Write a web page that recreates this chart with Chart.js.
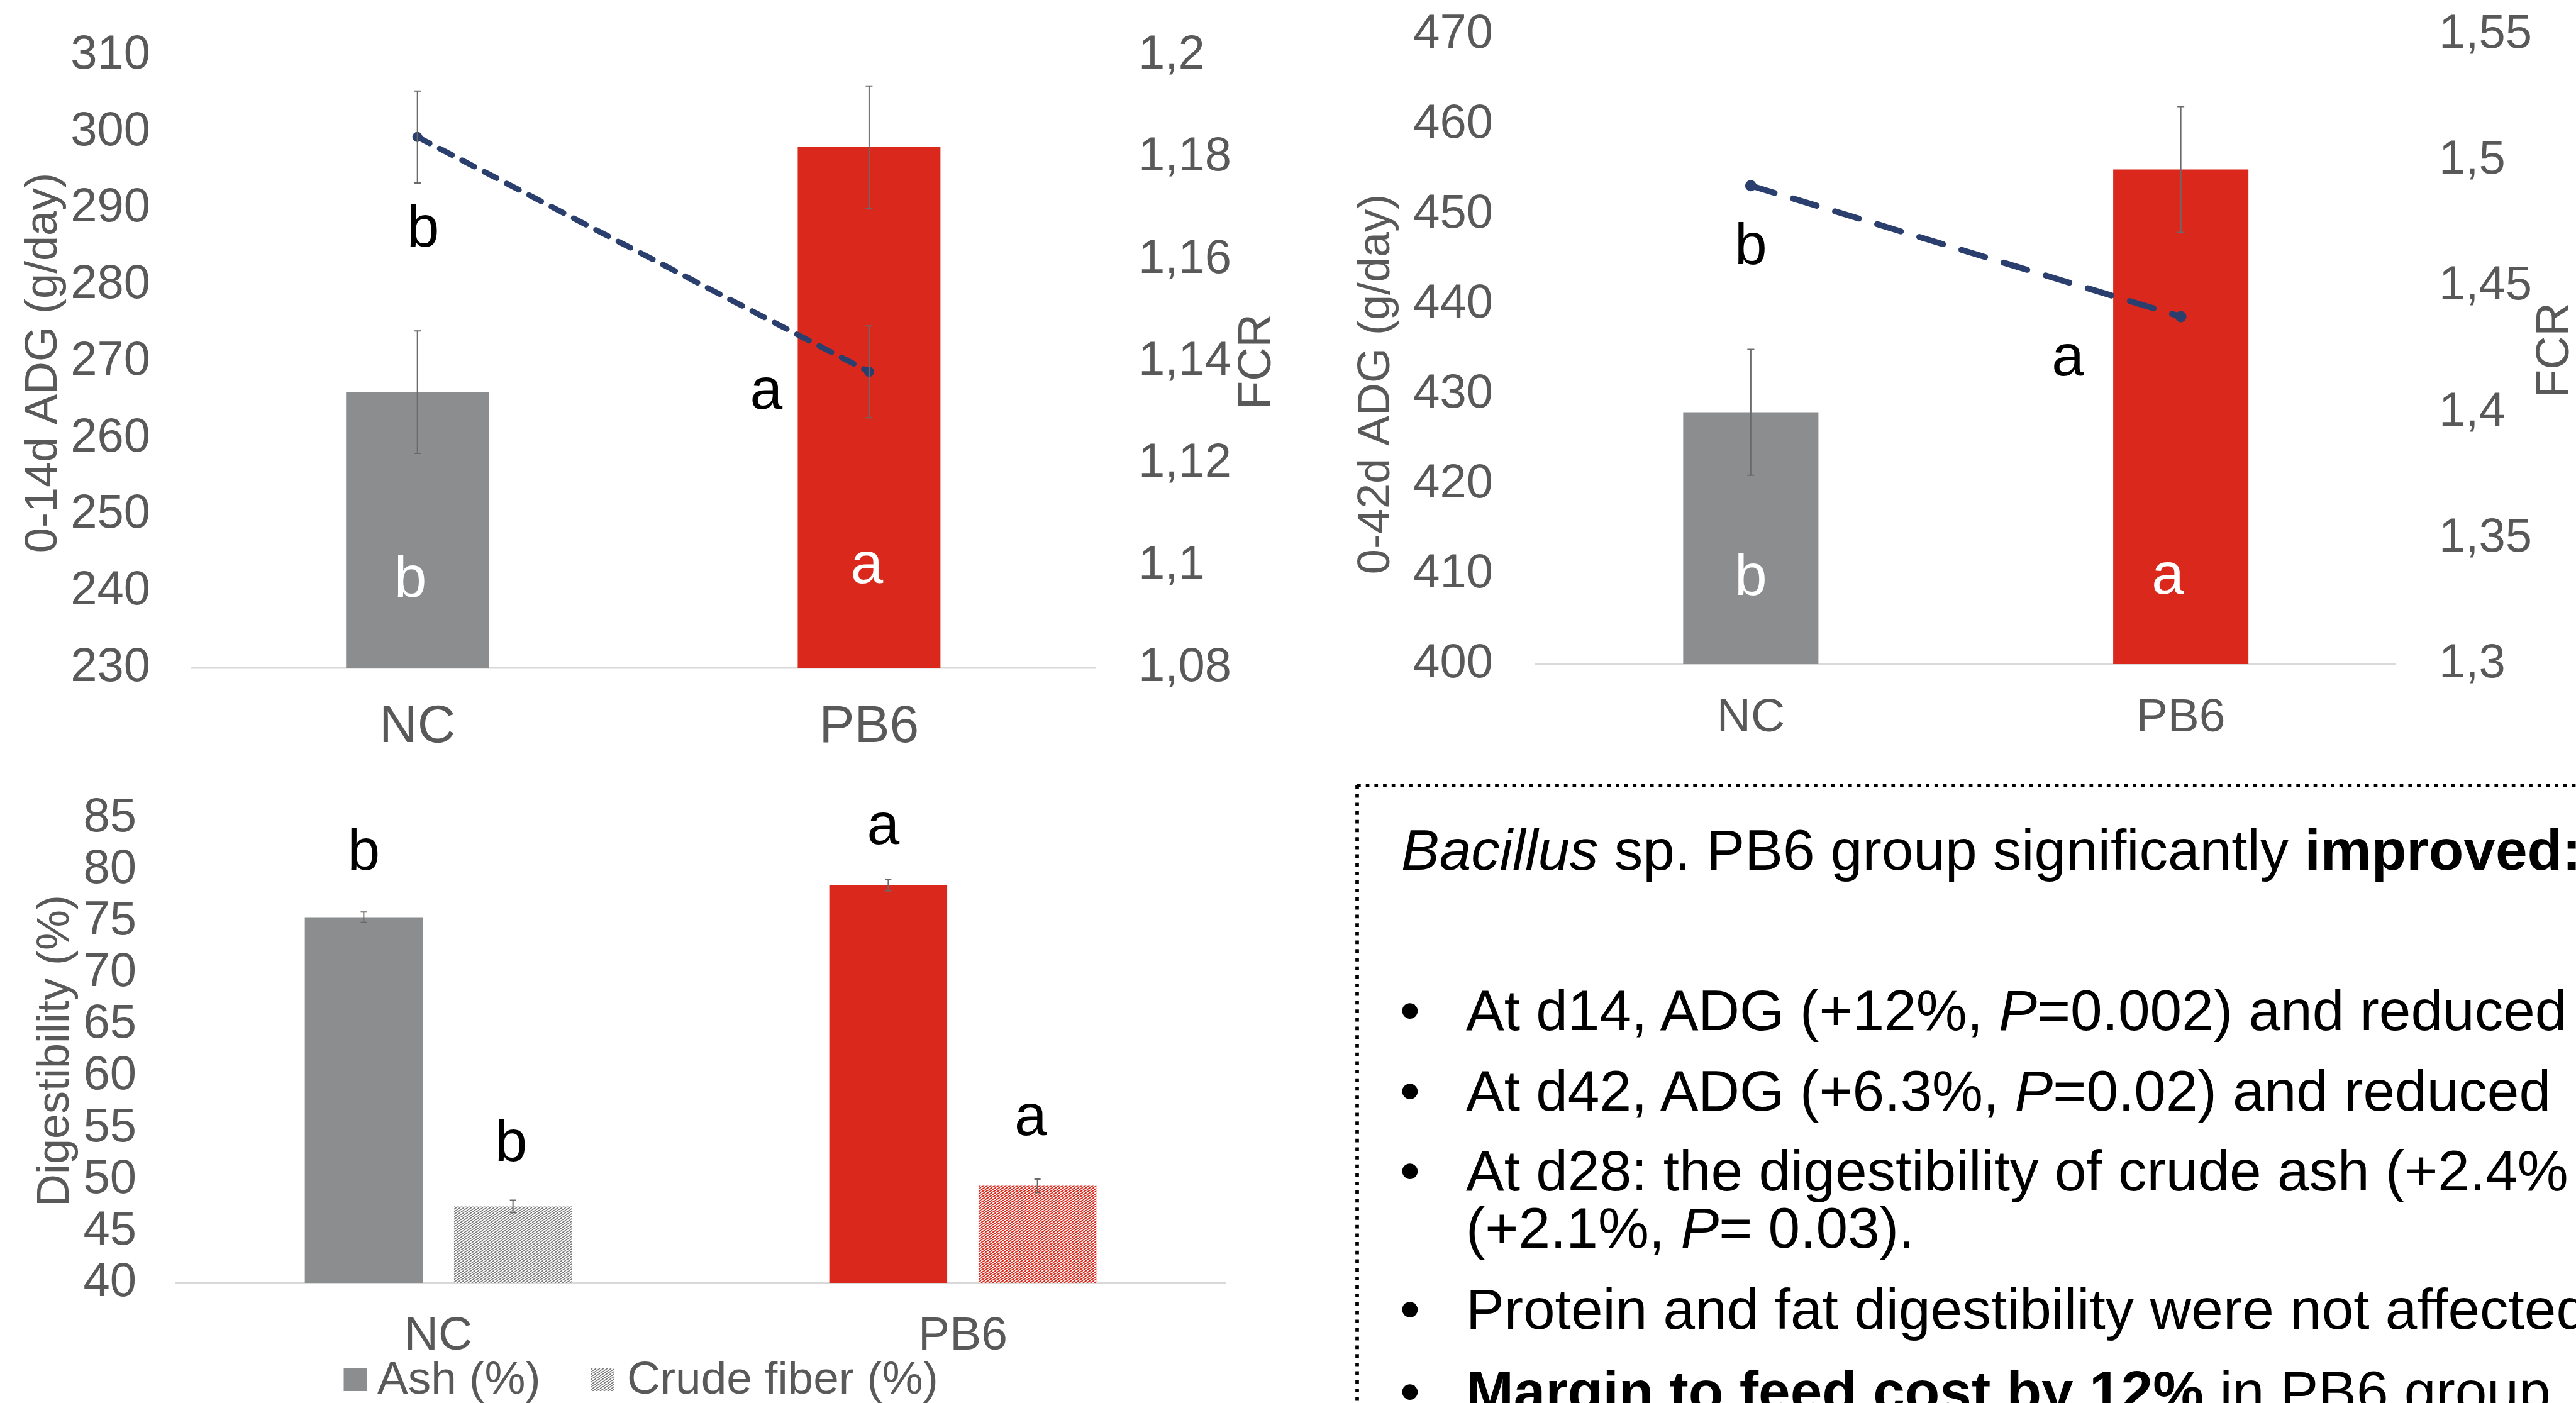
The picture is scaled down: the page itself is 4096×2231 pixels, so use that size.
<!DOCTYPE html>
<html><head><meta charset="utf-8">
<script src="https://cdn.jsdelivr.net/npm/chart.js@4.4.1/dist/chart.umd.min.js"></script>
<style>
html,body{margin:0;padding:0;background:#fff;overflow:hidden;}
#page{position:relative;width:4096px;height:2231px;overflow:hidden;background:#fff;font-family:'Liberation Sans',Arial,sans-serif;}
canvas{position:absolute;}
.t{position:absolute;white-space:nowrap;font-size:91px;line-height:91px;color:#000;}
</style></head><body><div id="page">
<canvas id="c1" width="2048" height="1200" style="left:0;top:0"></canvas>
<canvas id="c2" width="2048" height="1200" style="left:2048px;top:0"></canvas>
<canvas id="c3" width="2100" height="1031" style="left:0;top:1200px"></canvas>
<svg width="4096" height="2231" style="position:absolute;left:0;top:0">
  <path d="M2158 1249 H4200" stroke="#000" stroke-width="5.7" stroke-dasharray="5.7 8" fill="none"/>
  <path d="M2158 1249 V2400" stroke="#000" stroke-width="5.7" stroke-dasharray="5.7 8" fill="none"/>
</svg>
<div class="t" style="left:2228px;top:1306px"><i>Bacillus</i> sp. PB6 group significantly <b>improved:</b></div>
<div class="t" style="left:2226px;top:1561px">•</div>
<div class="t" style="left:2331px;top:1561px">At d14, ADG (+12%, <i>P</i>=0.002) and reduced</div>
<div class="t" style="left:2226px;top:1689px">•</div>
<div class="t" style="left:2331px;top:1689px">At d42, ADG (+6.3%, <i>P</i>=0.02) and reduced</div>
<div class="t" style="left:2226px;top:1816px">•</div>
<div class="t" style="left:2331px;top:1816px">At d28: the digestibility of crude ash (+2.4%</div>
<div class="t" style="left:2331px;top:1907px">(+2.1%, <i>P</i>= 0.03).</div>
<div class="t" style="left:2226px;top:2036px">•</div>
<div class="t" style="left:2331px;top:2036px">Protein and fat digestibility were not affected</div>
<div class="t" style="left:2226px;top:2167px">•</div>
<div class="t" style="left:2331px;top:2167px"><b>Margin to feed cost by 12%</b> in PB6 group</div>
</div>
<script>
// ---------- data ----------
const categories = ['NC', 'PB6'];
const adg14 = [266, 298];
const adg14Err = [8, 8];
const fcr14 = [1.184, 1.138];
const fcr14Err = [0.009, 0.009];
const adg42 = [428, 455];
const adg42Err = [7, 7];
const fcr42 = [1.49, 1.438];
const ash = [75.4, 78.5];
const ashErr = [0.5, 0.55];
const fiber = [47.4, 49.4];
const fiberErr = [0.6, 0.65];
const adg14Ticks = [230, 240, 250, 260, 270, 280, 290, 300, 310];
const fcr14Ticks = [1.08, 1.10, 1.12, 1.14, 1.16, 1.18, 1.20];
const fcr14TickLabels = ['1,08', '1,1', '1,12', '1,14', '1,16', '1,18', '1,2'];
const adg42Ticks = [400, 410, 420, 430, 440, 450, 460, 470];
const fcr42Ticks = [1.30, 1.35, 1.40, 1.45, 1.50, 1.55];
const fcr42TickLabels = ['1,3', '1,35', '1,4', '1,45', '1,5', '1,55'];
const digTicks = [40, 45, 50, 55, 60, 65, 70, 75, 80, 85];
const legendLabels = ['Ash (%)', 'Crude fiber (%)'];

// ---------- styles ----------
const FAM = "'Liberation Sans', Arial, sans-serif";
const GREY = '#8C8D8F', RED = '#DA291C', NAVY = '#2B3F6E', TICK = '#595959', AXIS = '#D9D9D9', ERR = '#6A6A6A';
const CLEAR = 'rgba(0,0,0,0)';

function errPlugin(sets, cap) {
  return { id: 'errbars', afterDatasetsDraw(chart) {
    const ctx = chart.ctx;
    sets.forEach(s => {
      const meta = chart.getDatasetMeta(s.ds);
      const scale = chart.scales[meta.yAxisID];
      const data = chart.data.datasets[s.ds].data;
      ctx.save(); ctx.strokeStyle = ERR; ctx.lineWidth = 2;
      meta.data.forEach((el, i) => {
        const x = el.x, y1 = scale.getPixelForValue(data[i] + s.err[i]), y2 = scale.getPixelForValue(data[i] - s.err[i]);
        ctx.beginPath();
        ctx.moveTo(x, y1); ctx.lineTo(x, y2);
        ctx.moveTo(x - cap, y1); ctx.lineTo(x + cap, y1);
        ctx.moveTo(x - cap, y2); ctx.lineTo(x + cap, y2);
        ctx.stroke();
      });
      ctx.restore();
    });
  }};
}
function letterPlugin(list) {
  return { id: 'letters', afterDraw(chart) {
    const ctx = chart.ctx;
    ctx.save(); ctx.font = '93px ' + FAM; ctx.textAlign = 'center'; ctx.textBaseline = 'alphabetic';
    list.forEach(L => {
      const el = chart.getDatasetMeta(L.ds).data[L.i];
      const y0 = L.anchor === 'base' ? chart.chartArea.bottom : el.y;
      ctx.fillStyle = L.c;
      ctx.fillText(L.t, el.x + L.dx, y0 + L.dy);
    });
    ctx.restore();
  }};
}
function titlePlugin(list) {
  return { id: 'titles', afterDraw(chart) {
    const ctx = chart.ctx;
    list.forEach(T => {
      ctx.save(); ctx.translate(T.x, T.y); ctx.rotate(-Math.PI / 2);
      ctx.font = T.size + 'px ' + FAM; ctx.fillStyle = TICK; ctx.textAlign = 'center'; ctx.textBaseline = 'middle';
      ctx.fillText(T.t, 0, 0); ctx.restore();
    });
  }};
}
function yAxis(pos, min, max, vals, labels, pad, width, size) {
  return {
    position: pos, min: min, max: max,
    afterBuildTicks(s) { s.ticks = vals.map(v => ({ value: v })); },
    ticks: { color: TICK, font: { family: FAM, size: size, lineHeight: 1 }, padding: 0, autoSkip: false,
             callback: (v, i) => labels[i] },
    grid: { display: true, drawOnChartArea: false, drawTicks: true, tickLength: pad, tickColor: CLEAR, color: CLEAR },
    border: { display: false },
    afterFit(s) { s.width = width; }
  };
}
function xAxis(size, pad, height) {
  return {
    grid: { display: false, drawTicks: false },
    border: { display: true, color: AXIS, width: 2.5 },
    ticks: { color: TICK, font: { family: FAM, size: size, lineHeight: 1 }, padding: pad },
    afterFit(s) { s.height = height; }
  };
}
const base = { responsive: false, devicePixelRatio: 1, animation: false,
  plugins: { legend: { display: false }, tooltip: { enabled: false } } };

// ---------- chart 1 ----------
new Chart(document.getElementById('c1'), {
  type: 'bar',
  data: { labels: categories, datasets: [
    { type: 'line', data: fcr14, yAxisID: 'y1', borderColor: NAVY, backgroundColor: NAVY, borderWidth: 9,
      borderDash: [22, 18], borderCapStyle: 'round', pointRadius: 8, pointBorderWidth: 0,
      pointBackgroundColor: NAVY, fill: false, tension: 0, order: 0 },
    { type: 'bar', data: adg14, yAxisID: 'y', backgroundColor: [GREY, RED], barPercentage: 0.316,
      categoryPercentage: 1, order: 1 }
  ]},
  options: Object.assign({}, base, {
    layout: { padding: { top: 88, left: 0, right: 0, bottom: 0 } },
    scales: {
      x: xAxis(84, 53, 138),
      y: yAxis('left', 230, 310, adg14Ticks, adg14Ticks.map(String), 65.6, 304.6, 76),
      y1: yAxis('right', 1.08, 1.2, fcr14Ticks, fcr14TickLabels, 69, 307, 76)
    }
  }),
  plugins: [
    errPlugin([{ ds: 1, err: adg14Err }, { ds: 0, err: fcr14Err }], 5.5),
    letterPlugin([
      { t: 'b', c: '#000', ds: 0, i: 0, dx: 9, dy: 174 },
      { t: 'a', c: '#000', ds: 0, i: 1, dx: -163.5, dy: 59 },
      { t: 'b', c: '#fff', ds: 1, i: 0, anchor: 'base', dx: -11, dy: -113.5 },
      { t: 'a', c: '#fff', ds: 1, i: 1, anchor: 'base', dx: -3.5, dy: -135 }
    ]),
    titlePlugin([
      { t: '0-14d ADG (g/day)', x: 70, y: 577, size: 72 },
      { t: 'FCR', x: 2000, y: 575, size: 74 }
    ])
  ]
});

// ---------- chart 2 ----------
new Chart(document.getElementById('c2'), {
  type: 'bar',
  data: { labels: categories, datasets: [
    { type: 'line', data: fcr42, yAxisID: 'y1', borderColor: NAVY, backgroundColor: NAVY, borderWidth: 9.5,
      borderDash: [39.5, 30.5], borderCapStyle: 'round', pointRadius: 9, pointBorderWidth: 0,
      pointBackgroundColor: NAVY, fill: false, tension: 0, order: 0 },
    { type: 'bar', data: adg42, yAxisID: 'y', backgroundColor: [GREY, RED], barPercentage: 0.3145,
      categoryPercentage: 1, order: 1 }
  ]},
  options: Object.assign({}, base, {
    layout: { padding: { top: 55, left: 0, right: 0, bottom: 0 } },
    scales: {
      x: xAxis(75, 48.5, 144),
      y: yAxis('left', 400, 470, adg42Ticks, adg42Ticks.map(String), 68, 394, 76),
      y1: yAxis('right', 1.3, 1.55, fcr42Ticks, fcr42TickLabels, 68.5, 286.5, 76)
    }
  }),
  plugins: [
    errPlugin([{ ds: 1, err: adg42Err }], 5.5),
    letterPlugin([
      { t: 'b', c: '#000', ds: 0, i: 0, dx: 0, dy: 125 },
      { t: 'a', c: '#000', ds: 0, i: 1, dx: -179.6, dy: 94 },
      { t: 'b', c: '#fff', ds: 1, i: 0, anchor: 'base', dx: 0, dy: -110 },
      { t: 'a', c: '#fff', ds: 1, i: 1, anchor: 'base', dx: -20.6, dy: -112 }
    ]),
    titlePlugin([
      { t: '0-42d ADG (g/day)', x: 141, y: 611, size: 72 },
      { t: 'FCR', x: 2016, y: 557, size: 74 }
    ])
  ]
});

// ---------- chart 3 ----------
const c3 = document.getElementById('c3');
const c3ctx = c3.getContext('2d');
function hatch(color, lw) {
  const t = document.createElement('canvas'); t.width = 6; t.height = 4;
  const g = t.getContext('2d');
  g.fillStyle = '#fff'; g.fillRect(0, 0, 6, 4);
  g.strokeStyle = color; g.lineWidth = lw;
  [-6, 0, 6].forEach(o => { g.beginPath(); g.moveTo(o, 4); g.lineTo(o + 6, 0); g.stroke(); });
  return c3ctx.createPattern(t, 'repeat');
}
const greyHatch = hatch('#7a7a7a', 1.7), redHatch = hatch(RED, 1.9);
const legendPlugin = { id: 'customLegend', afterDraw(chart) {
  const ctx = chart.ctx;
  ctx.save();
  ctx.fillStyle = GREY; ctx.fillRect(546.5, 975, 36.5, 37);
  ctx.fillStyle = greyHatch; ctx.fillRect(940, 975, 37, 37);
  ctx.font = '73px ' + FAM; ctx.fillStyle = TICK; ctx.textBaseline = 'alphabetic'; ctx.textAlign = 'left';
  ctx.fillText(legendLabels[0], 600, 1016);
  ctx.fillText(legendLabels[1], 997, 1016);
  ctx.restore();
}};
new Chart(c3, {
  type: 'bar',
  data: { labels: categories, datasets: [
    { label: legendLabels[0], data: ash, backgroundColor: [GREY, RED], barPercentage: 0.79, categoryPercentage: 0.569 },
    { label: legendLabels[1], data: fiber, backgroundColor: [greyHatch, redHatch], barPercentage: 0.79, categoryPercentage: 0.569 }
  ]},
  options: Object.assign({}, base, {
    layout: { padding: { top: 100.7, left: 0, right: 152, bottom: 0 } },
    scales: {
      x: xAxis(75, 47.5, 191),
      y: yAxis('left', 40, 85, digTicks, digTicks.map(String), 63, 280, 76)
    }
  }),
  plugins: [
    errPlugin([{ ds: 0, err: ashErr }, { ds: 1, err: fiberErr }], 5),
    letterPlugin([
      { t: 'b', c: '#000', ds: 0, i: 0, dx: 0, dy: -75.4 },
      { t: 'b', c: '#000', ds: 1, i: 0, dx: -3, dy: -72.4 },
      { t: 'a', c: '#000', ds: 0, i: 1, dx: -8, dy: -65.5 },
      { t: 'a', c: '#000', ds: 1, i: 1, dx: -10.7, dy: -80.6 }
    ]),
    titlePlugin([{ t: 'Digestibility (%)', x: 89, y: 471, size: 72 }]),
    legendPlugin
  ]
});
</script>
</body></html>
